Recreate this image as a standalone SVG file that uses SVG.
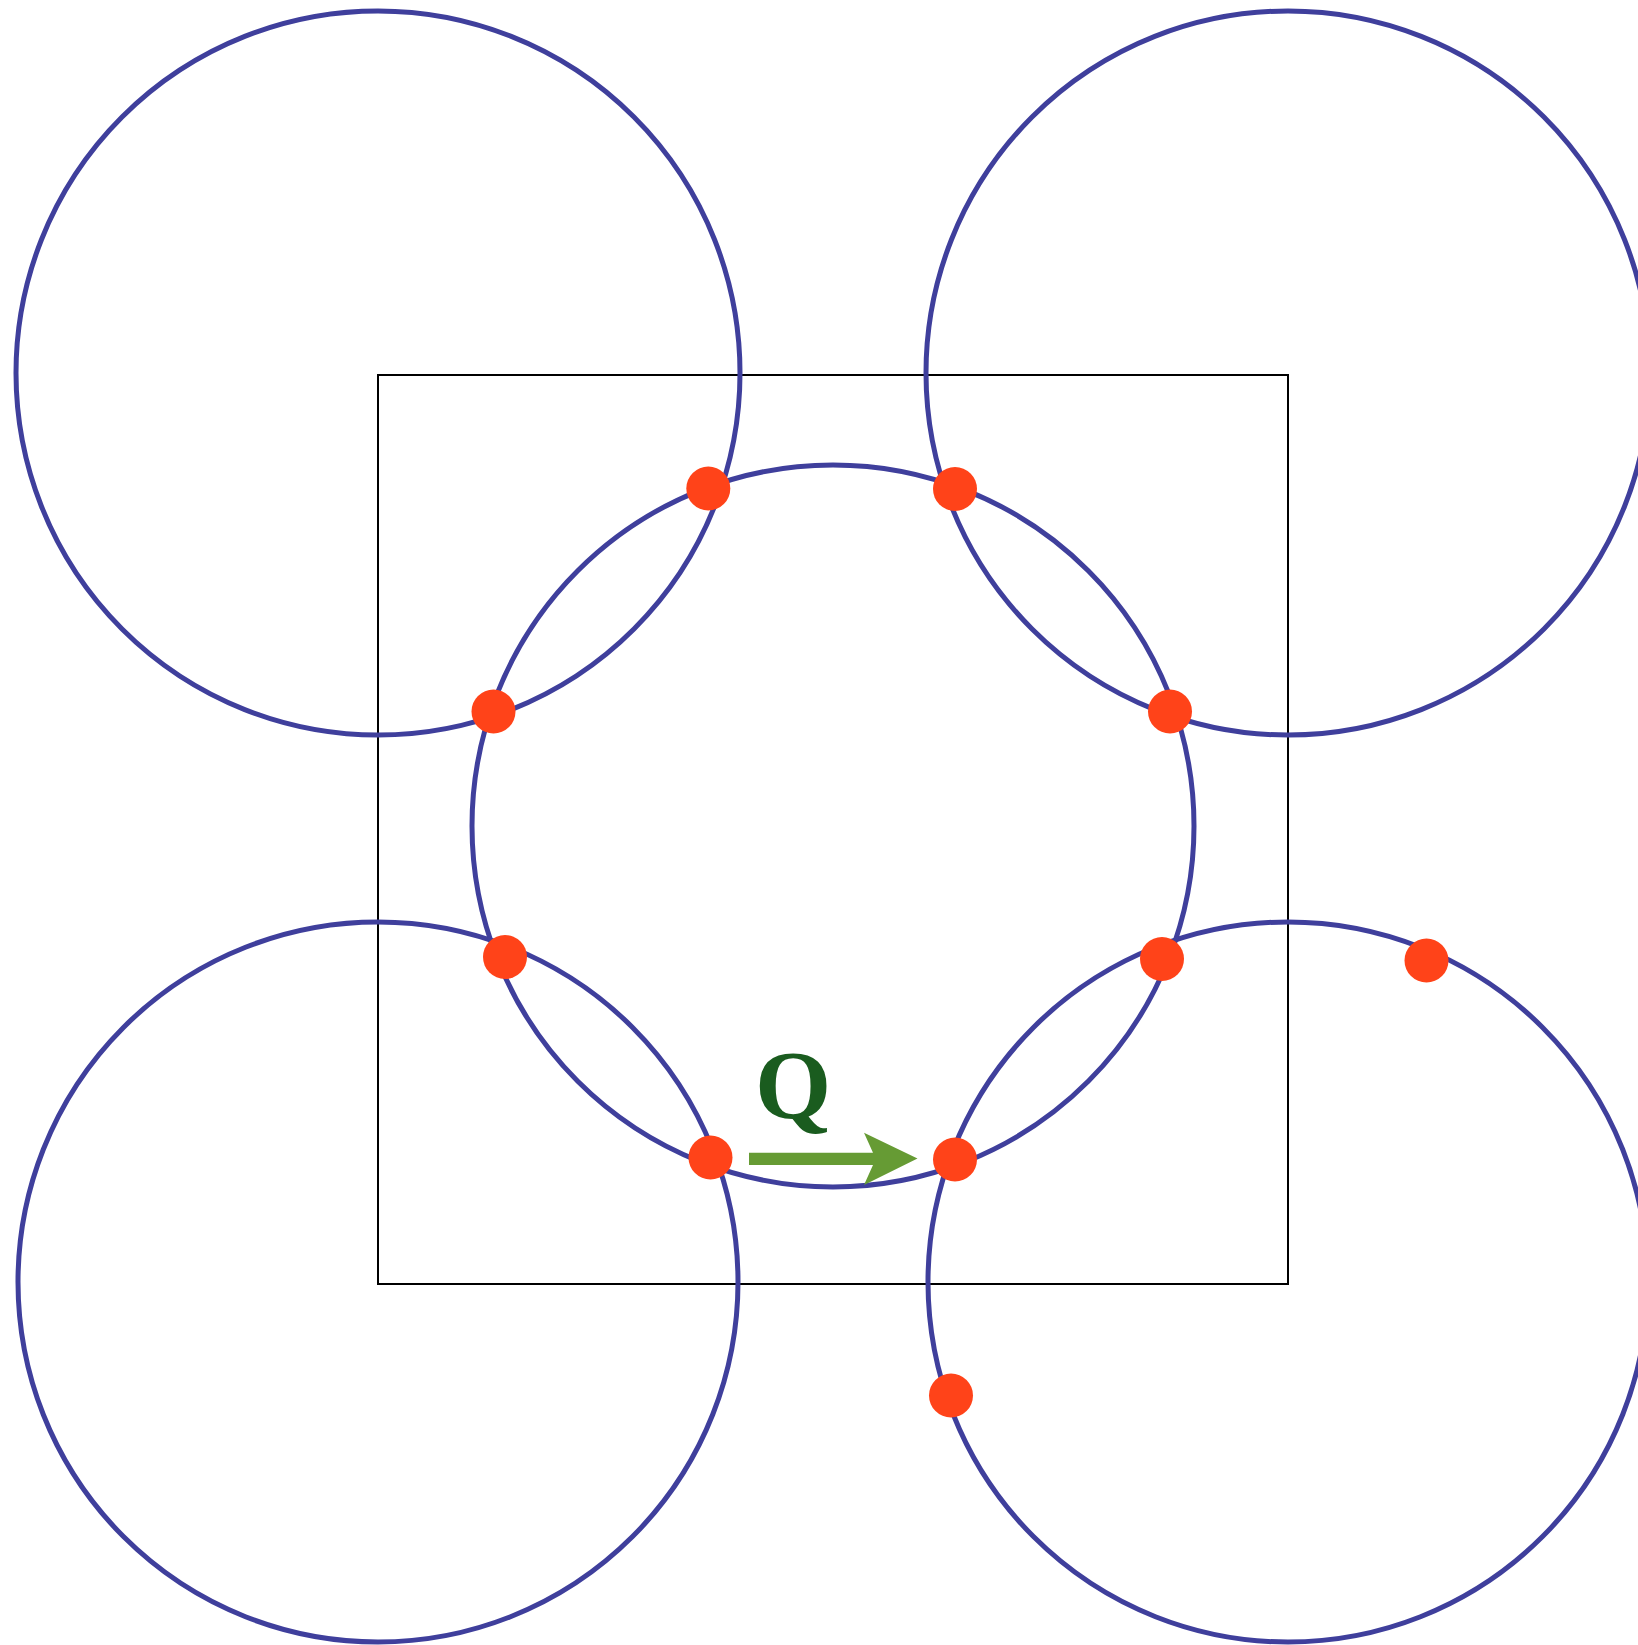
<svg xmlns="http://www.w3.org/2000/svg" width="1638" height="1645" viewBox="0 0 1638 1645">
<style>
.c{fill:none;stroke:#3f3f9c;stroke-width:5}
.d{fill:#ff4319}
.sq{fill:none;stroke:#000;stroke-width:2}
</style>
<rect width="1638" height="1645" fill="#fff"/>
<g id="square"><rect class="sq" x="378" y="375" width="910" height="909"/></g>
<g id="circles">
<circle id="c-tl" class="c" cx="378" cy="373" r="362"/>
<circle id="c-tr" class="c" cx="1288" cy="373" r="362"/>
<circle id="c-bl" class="c" cx="378" cy="1282" r="360"/>
<circle id="c-br" class="c" cx="1288" cy="1282" r="360"/>
<circle id="c-mid" class="c" cx="833" cy="826" r="361"/>
</g>
<g id="dots">
<circle class="d" cx="708.3" cy="488.5" r="22"/>
<circle class="d" cx="955" cy="489" r="22"/>
<circle class="d" cx="493.5" cy="711.5" r="22"/>
<circle class="d" cx="1170" cy="711.5" r="22"/>
<circle class="d" cx="505" cy="957" r="22"/>
<circle class="d" cx="1162" cy="959" r="22"/>
<circle class="d" cx="1426.5" cy="960.5" r="22"/>
<circle class="d" cx="710.5" cy="1157.5" r="22"/>
<circle class="d" cx="955" cy="1159.5" r="22"/>
<circle class="d" cx="951" cy="1395.5" r="22"/>
</g>
<g id="vector-Q">
<path d="M749,1152.7 H873 L864,1132.7 L917.5,1158.5 L864,1185 L873,1165 H749 Z" fill="#669b34"/>
<text x="793" y="1118" font-family="Liberation Serif, serif" font-weight="bold" font-size="98" fill="#1a5c1f" text-anchor="middle">Q</text>
</g>
</svg>
